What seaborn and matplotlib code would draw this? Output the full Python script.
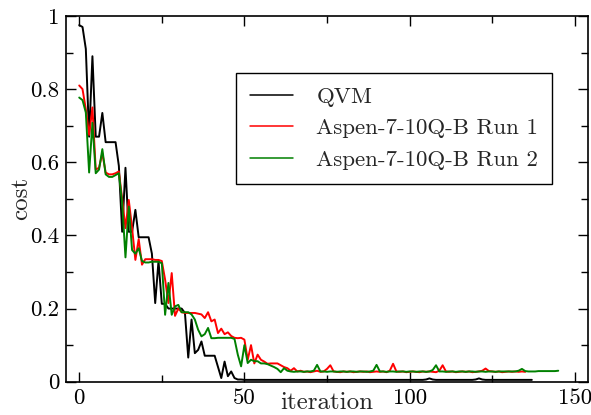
import numpy as np
import pandas as pd
import matplotlib
matplotlib.use("Agg")
import matplotlib.pyplot as plt
import seaborn as sns
from matplotlib.ticker import FixedLocator

series_names = ["QVM", "Aspen-7-10Q-B Run 1", "Aspen-7-10Q-B Run 2"]
series_colors = ["black", "red", "green"]

qvm = [
    0.975, 0.97, 0.91, 0.67, 0.89, 0.67, 0.67, 0.735, 0.655, 0.655,
    0.655, 0.655, 0.59, 0.41, 0.585, 0.41, 0.41, 0.47, 0.395, 0.395,
    0.395, 0.395, 0.35, 0.215, 0.33, 0.213, 0.213, 0.2, 0.2, 0.2,
    0.2, 0.2, 0.188, 0.066, 0.17, 0.078, 0.087, 0.11, 0.071, 0.071,
    0.071, 0.071, 0.04, 0.01, 0.055, 0.015, 0.028, 0.01, 0.006, 0.006,
    0.005, 0.005, 0.005, 0.005, 0.005, 0.005, 0.005, 0.005, 0.005, 0.005,
    0.005, 0.005, 0.005, 0.005, 0.005, 0.005, 0.005, 0.005, 0.005, 0.005,
    0.005, 0.005, 0.005, 0.005, 0.005, 0.005, 0.005, 0.005, 0.005, 0.005,
    0.005, 0.005, 0.005, 0.005, 0.005, 0.005, 0.005, 0.005, 0.005, 0.005,
    0.005, 0.005, 0.005, 0.005, 0.005, 0.005, 0.005, 0.005, 0.005, 0.005,
    0.005, 0.005, 0.005, 0.005, 0.005, 0.006, 0.009, 0.006, 0.005, 0.005,
    0.005, 0.005, 0.005, 0.005, 0.005, 0.005, 0.005, 0.005, 0.005, 0.005,
    0.006, 0.009, 0.006, 0.005, 0.005, 0.005, 0.005, 0.005, 0.005, 0.005,
    0.005, 0.005, 0.005, 0.005, 0.005, 0.005, 0.005, 0.005,
]

run1 = [
    0.81, 0.80, 0.745, 0.675, 0.75, 0.58, 0.585, 0.625, 0.572, 0.567,
    0.567, 0.57, 0.575, 0.50, 0.42, 0.497, 0.42, 0.333, 0.39, 0.32,
    0.335, 0.335, 0.335, 0.333, 0.333, 0.33, 0.279, 0.215, 0.297, 0.18,
    0.2, 0.19, 0.188, 0.188, 0.188, 0.188, 0.186, 0.184, 0.174, 0.19,
    0.165, 0.17, 0.133, 0.145, 0.13, 0.135, 0.125, 0.12, 0.119, 0.12,
    0.115, 0.06, 0.1, 0.05, 0.074, 0.06, 0.055, 0.049, 0.05, 0.05,
    0.05, 0.045, 0.04, 0.037, 0.03, 0.037, 0.028, 0.03, 0.027, 0.028,
    0.026, 0.028, 0.03, 0.027, 0.028, 0.035, 0.045, 0.028, 0.027, 0.026,
    0.028, 0.027, 0.028, 0.026, 0.027, 0.028, 0.027, 0.028, 0.026, 0.027,
    0.028, 0.027, 0.028, 0.026, 0.03, 0.049, 0.028, 0.027, 0.028, 0.026,
    0.027, 0.028, 0.027, 0.026, 0.028, 0.027, 0.028, 0.027, 0.026, 0.03,
    0.045, 0.028, 0.027, 0.028, 0.026, 0.027, 0.028, 0.027, 0.028, 0.026,
    0.027, 0.028, 0.03, 0.036, 0.029, 0.028, 0.027, 0.028, 0.026, 0.027,
    0.028, 0.027, 0.028, 0.027, 0.028, 0.027,
]

run2 = [
    0.777, 0.77, 0.736, 0.572, 0.708, 0.57, 0.58, 0.636, 0.567, 0.56,
    0.56, 0.565, 0.57, 0.49, 0.34, 0.479, 0.36, 0.35, 0.365, 0.33,
    0.326, 0.326, 0.328, 0.328, 0.328, 0.324, 0.183, 0.27, 0.183, 0.206,
    0.21, 0.19, 0.19, 0.19, 0.184, 0.17, 0.142, 0.124, 0.13, 0.147,
    0.119, 0.119, 0.12, 0.12, 0.12, 0.12, 0.12, 0.117, 0.074, 0.042,
    0.1, 0.051, 0.06, 0.056, 0.056, 0.05, 0.05, 0.048, 0.044, 0.04,
    0.035, 0.026, 0.037, 0.03, 0.028, 0.027, 0.028, 0.028, 0.027, 0.028,
    0.028, 0.03, 0.046, 0.028, 0.028, 0.027, 0.028, 0.028, 0.027, 0.028,
    0.028, 0.027, 0.028, 0.028, 0.027, 0.028, 0.028, 0.027, 0.028, 0.03,
    0.046, 0.028, 0.028, 0.027, 0.028, 0.028, 0.027, 0.028, 0.028, 0.027,
    0.028, 0.028, 0.027, 0.028, 0.028, 0.027, 0.028, 0.032, 0.045, 0.028,
    0.028, 0.027, 0.028, 0.028, 0.027, 0.028, 0.028, 0.027, 0.028, 0.028,
    0.027, 0.028, 0.028, 0.027, 0.028, 0.028, 0.027, 0.028, 0.028, 0.028,
    0.028, 0.028, 0.028, 0.03, 0.035, 0.029, 0.028, 0.028, 0.028, 0.029,
    0.029, 0.029, 0.029, 0.029, 0.029, 0.03,
]

x_ticks = [0, 50, 100, 150]
x_tick_labels = ["0", "50", "100", "150"]
x_minor = [25, 75, 125]
y_ticks = [0, 0.2, 0.4, 0.6, 0.8, 1.0]
y_tick_labels = ["0", "0.2", "0.4", "0.6", "0.8", "1"]
y_minor = [0.1, 0.3, 0.5, 0.7, 0.9]

sns.set_theme(style="ticks")
plt.rcParams["font.family"] = ["cmr10", "DejaVu Serif"]
plt.rcParams["axes.formatter.use_mathtext"] = True
plt.rcParams["mathtext.fontset"] = "cm"

W, H = 591, 415
fig = plt.figure(figsize=(W / 100, H / 100), dpi=100)
ax = fig.add_axes([66 / W, 1 - 381.7 / H, 522 / W, 365.7 / H])

for name, vals, col in zip(series_names, [qvm, run1, run2], series_colors):
    df = pd.DataFrame({"iteration": np.arange(len(vals)), "cost": vals})
    sns.lineplot(data=df, x="iteration", y="cost", color=col, linewidth=1.4,
                 label=name, ax=ax, estimator=None)

ax.set_xlim(-4, 154)
ax.set_ylim(0, 1)
ax.xaxis.set_major_locator(FixedLocator(x_ticks))
ax.set_xticklabels(x_tick_labels)
ax.xaxis.set_minor_locator(FixedLocator(x_minor))
ax.yaxis.set_major_locator(FixedLocator(y_ticks))
ax.set_yticklabels(y_tick_labels)
ax.yaxis.set_minor_locator(FixedLocator(y_minor))

ax.tick_params(which="both", direction="in", top=True, right=True,
               colors="black", width=1.0, labelsize=16.5)
ax.tick_params(which="major", length=7, pad=5)
ax.tick_params(which="minor", length=5)
for s in ax.spines.values():
    s.set_color("black")
    s.set_linewidth(1.2)
    s.set_visible(True)

ax.set_xlabel("iteration", fontsize=18)
ax.set_ylabel("cost", fontsize=18)
ax.xaxis.set_label_coords(0.5, -0.027)
ax.yaxis.set_label_coords(-0.065, 0.5)

leg = ax.legend(loc="upper right", bbox_to_anchor=(0.931, 0.844),
                borderaxespad=0, frameon=True, fancybox=False,
                edgecolor="black", framealpha=1, fontsize=16.5,
                handlelength=1.9, handletextpad=1.0, borderpad=0.6,
                labelspacing=0.5)
leg.get_frame().set_linewidth(1.0)
for line in leg.get_lines():
    line.set_linewidth(1.1)

fig.savefig("out.png", dpi=100)
